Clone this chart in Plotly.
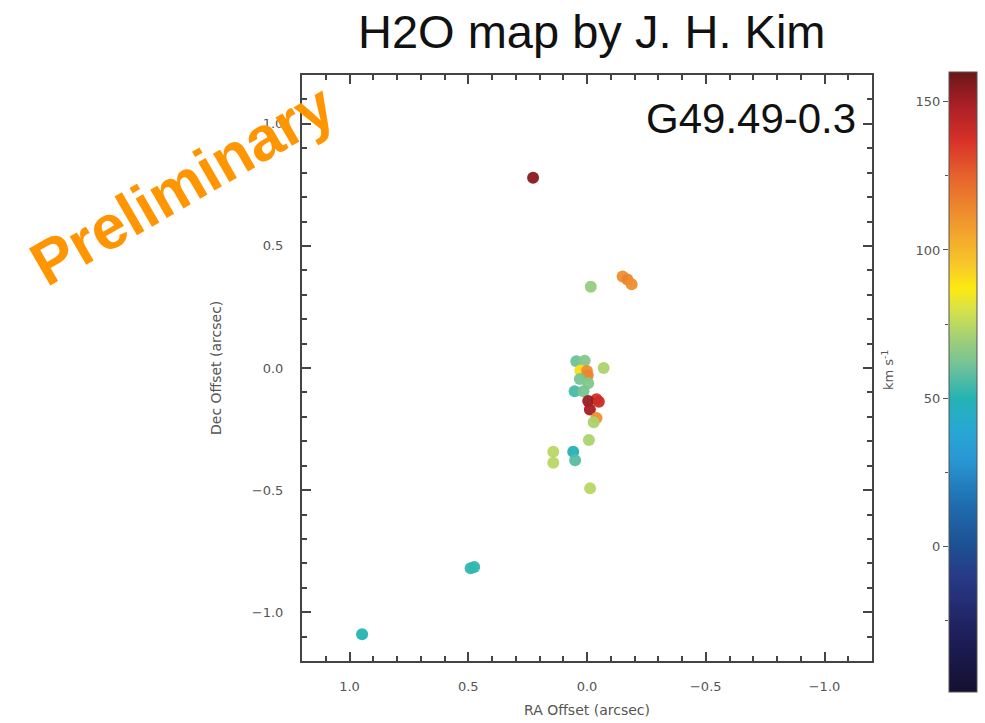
import plotly.graph_objects as go

# ---- data ----
ra_offset = [0.227, -0.016, -0.150, -0.170, -0.188,
             0.045, 0.010, 0.028, 0.000, -0.003, -0.070, 0.030, -0.005, 0.052, 0.015,
             -0.040, -0.005, -0.012, -0.050, -0.040, -0.028, -0.008,
             0.142, 0.142, 0.058, 0.050, -0.013,
             0.490, 0.475, 0.947]
dec_offset = [0.779, 0.333, 0.375, 0.362, 0.343,
              0.028, 0.030, -0.010, -0.012, -0.030, 0.000, -0.045, -0.062, -0.095, -0.095,
              -0.128, -0.135, -0.170, -0.138, -0.205, -0.222, -0.295,
              -0.343, -0.388, -0.343, -0.378, -0.493,
              -0.820, -0.815, -1.090]
velocity = [155, 68, 112, 115, 112,
            60, 65, 90, 112, 115, 72, 62, 64, 55, 62,
            138, 152, 150, 140, 112, 72, 72,
            74, 74, 48, 57, 74,
            52, 52, 50]

x_ticks = [1.0, 0.5, 0.0, -0.5, -1.0]
y_ticks = [-1.0, -0.5, 0.0, 0.5, 1.0]
cb_ticks = [0, 50, 100, 150]
v_min, v_max = -49, 160

colorscale = [
    [0.000, "#141030"], [0.091, "#1e1e5a"], [0.187, "#283a88"], [0.234, "#1d4f93"],
    [0.306, "#1f6fb0"], [0.378, "#2a98d5"], [0.426, "#27a8d2"], [0.474, "#25b3b3"],
    [0.522, "#6cc19a"], [0.569, "#a0cf78"], [0.617, "#d8e24a"], [0.651, "#fde910"],
    [0.689, "#f8c82a"], [0.761, "#f0952e"], [0.833, "#e6622c"], [0.890, "#d83028"],
    [0.952, "#a41e24"], [1.000, "#6a1618"],
]

W, H = 985, 723
# plot frame in pixels
PL, PR, PT, PB = 302, 872, 75, 661
# colorbar in pixels
CL, CR, CT, CB = 949, 977, 72, 692

def fx(px):
    return px / W

def fy(py):
    return (H - py) / H

tick_font = dict(family="DejaVu Sans", size=13, color="#555555")
frame_col = "#444444"

fig = go.Figure()
fig.add_trace(go.Scatter(
    x=ra_offset, y=dec_offset, mode="markers",
    marker=dict(
        size=12, color=velocity, cmin=v_min, cmax=v_max, colorscale=colorscale,
        line=dict(width=0), opacity=0.95,
        colorbar=dict(
            x=fx(CL), xanchor="left", xpad=0, thickness=CR - CL,
            y=fy(CB), yanchor="bottom", ypad=0, len=(CB - CT) / H, lenmode="fraction",
            outlinewidth=1, outlinecolor="#555555",
            showticklabels=False, ticks="",
        ),
    ),
    showlegend=False, hoverinfo="skip",
))
# empty trace so that the colour-bar label axis (x2/y2) is drawn
fig.add_trace(go.Scatter(x=[None], y=[None], xaxis="x2", yaxis="y2", mode="markers",
                         showlegend=False, hoverinfo="skip"))

fig.update_layout(
    width=W, height=H,
    margin=dict(l=0, r=0, t=0, b=0, autoexpand=False),
    paper_bgcolor="white", plot_bgcolor="rgba(0,0,0,0)",
    xaxis=dict(
        domain=[fx(PL), fx(PR)], range=[1.2, -1.2], anchor="y",
        tickvals=x_ticks, tickformat=".1f", ticks="inside", ticklen=9, tickwidth=1.5,
        tickcolor=frame_col,
        minor=dict(dtick=0.1, ticks="inside", ticklen=5, tickcolor=frame_col, tickwidth=1.5),
        showline=True, linecolor=frame_col, linewidth=2, mirror="ticks",
        showgrid=False, zeroline=False, tickfont=tick_font, ticklabelstandoff=12,
    ),
    yaxis=dict(
        domain=[fy(PB), fy(PT)], range=[-1.2, 1.2], anchor="x",
        tickvals=y_ticks, tickformat=".1f", ticks="inside", ticklen=9, tickwidth=1.5,
        tickcolor=frame_col,
        minor=dict(dtick=0.1, ticks="inside", ticklen=5, tickcolor=frame_col, tickwidth=1.5),
        showline=True, linecolor=frame_col, linewidth=2, mirror="ticks",
        showgrid=False, zeroline=False, tickfont=tick_font, ticklabelstandoff=14,
    ),
    xaxis2=dict(domain=[fx(CL), fx(CR)], range=[0, 1], anchor="y2",
                showticklabels=False, ticks="", showline=False, showgrid=False,
                zeroline=False, fixedrange=True),
    yaxis2=dict(
        domain=[fy(CB), fy(CT)], range=[v_min, v_max], anchor="x2", side="left",
        tickvals=cb_ticks, ticks="outside", ticklen=5, tickcolor="#555555",
        minor=dict(dtick=25, tick0=0, ticks="outside", ticklen=3, tickcolor="#555555"),
        showline=False, showgrid=False, zeroline=False, fixedrange=True,
        tickfont=dict(family="DejaVu Sans", size=13, color="#555555"),
    ),
)

ann = []
ann.append(dict(text="H2O map by J. H. Kim", x=fx(592), y=fy(32), xref="paper", yref="paper",
                showarrow=False, xanchor="center", yanchor="middle",
                font=dict(family="Liberation Sans", size=47, color="#111111")))
ann.append(dict(text="G49.49-0.3", x=fx(858), y=fy(119), xref="paper", yref="paper",
                showarrow=False, xanchor="right", yanchor="middle",
                font=dict(family="Liberation Sans", size=42, color="#111111")))
ann.append(dict(text="RA Offset (arcsec)", x=fx(587), y=fy(710), xref="paper", yref="paper",
                showarrow=False, xanchor="center", yanchor="middle",
                font=dict(family="DejaVu Sans", size=14, color="#555555")))
ann.append(dict(text="Dec Offset (arcsec)", x=fx(216), y=fy(368), xref="paper", yref="paper",
                showarrow=False, xanchor="center", yanchor="middle", textangle=-90,
                font=dict(family="DejaVu Sans", size=14, color="#555555")))
ann.append(dict(text="km s<sup>-1</sup>", x=fx(888), y=fy(370), xref="paper", yref="paper",
                showarrow=False, xanchor="center", yanchor="middle", textangle=-90,
                font=dict(family="DejaVu Sans", size=13, color="#555555")))
ann.append(dict(text="<b>Preliminary</b>", x=fx(182), y=fy(184), xref="paper", yref="paper",
                showarrow=False, xanchor="center", yanchor="middle", textangle=-30,
                font=dict(family="Liberation Sans", size=62, color="#FF9500")))
fig.update_layout(annotations=ann)

fig.write_html("out.html")
